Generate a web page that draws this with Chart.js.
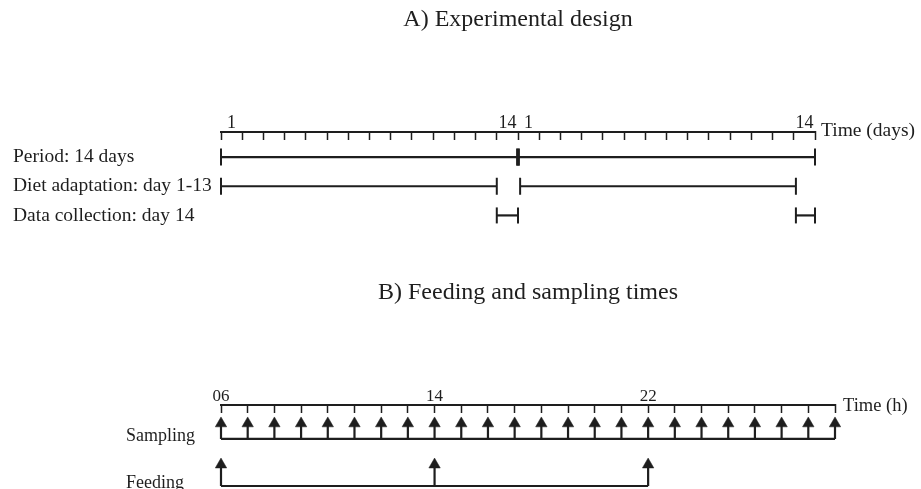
<!DOCTYPE html>
<html>
<head>
<meta charset="utf-8">
<script src="https://cdn.jsdelivr.net/npm/chart.js@4.4.1/dist/chart.umd.min.js"></script>
<style>
  html, body { margin: 0; padding: 0; background: #ffffff; }
  #wrapA { position: absolute; left: 0; top: 0; width: 921px; height: 260px; }
  #wrapB { position: absolute; left: 0; top: 260px; width: 921px; height: 229px; }
</style>
</head>
<body>
<div id="wrapA"><canvas id="chartA" width="921" height="260"></canvas></div>
<div id="wrapB"><canvas id="chartB" width="921" height="229"></canvas></div>
<script>
// ---------- Data: A) Experimental design ----------
const titleA = 'A) Experimental design';
const axisTitleA = 'Time (days)';
const dayBoundaries = [0, 1, 2, 3, 4, 5, 6, 7, 8, 9, 10, 11, 12, 13, 14, 15, 16, 17, 18, 19, 20, 21, 22, 23, 24, 25, 26, 27, 28];
const dayLabelAt = [0, 13, 14, 27];
const dayLabels = ['1', '14', '1', '14'];
const rowsA = ['Period: 14 days', 'Diet adaptation: day 1-13', 'Data collection: day 14'];
const periodSegments = [[0, 14], [14, 28]];
const dietSegments = [[0, 13], [14.1, 27.1]];
const collectionSegments = [[13, 14], [27.1, 28]];

// ---------- Data: B) Feeding and sampling times ----------
const titleB = 'B) Feeding and sampling times';
const axisTitleB = 'Time (h)';
const hourTicks = [6, 7, 8, 9, 10, 11, 12, 13, 14, 15, 16, 17, 18, 19, 20, 21, 22, 23, 24, 25, 26, 27, 28, 29];
const hourLabelAt = [6, 14, 22];
const hourLabels = ['06', '14', '22'];
const rowsB = ['Sampling', 'Feeding'];
const samplingTimes = [6, 7, 8, 9, 10, 11, 12, 13, 14, 15, 16, 17, 18, 19, 20, 21, 22, 23, 24, 25, 26, 27, 28, 29];
const feedingTimes = [6, 14, 22];

// ---------- Styles ----------
const FONT = "'Liberation Serif', 'Times New Roman', serif";
const INK = '#1e1e1e';

const axisEndLabel = {
  id: 'axisEndLabel',
  afterDraw(chart, args, opts) {
    const { ctx, chartArea } = chart;
    const xs = chart.scales.x;
    ctx.save();
    ctx.font = opts.size + 'px ' + FONT;
    ctx.fillStyle = INK;
    ctx.textBaseline = 'middle';
    ctx.textAlign = 'left';
    ctx.fillText(opts.text, chartArea.right + opts.gap, xs.bottom + opts.dy);
    ctx.restore();
  }
};

function segDatasets(segs, row, capRadius) {
  // boundaries shared by two consecutive segments get a heavier cap
  const joints = [];
  for (let i = 1; i < segs.length; i++) {
    if (segs[i][0] === segs[i - 1][1]) joints.push(segs[i][0]);
  }
  return segs.map(([a, b]) => ({
    type: 'line',
    data: [{ x: a, y: row }, { x: b, y: row }],
    borderColor: INK,
    borderWidth: 2.2,
    pointStyle: 'line',
    pointRotation: 90,
    pointRadius: capRadius,
    pointHoverRadius: capRadius,
    pointBorderWidth: c => (c.raw && joints.includes(c.raw.x)) ? 3.4 : 2,
    pointBorderColor: INK,
    pointBackgroundColor: INK,
    tension: 0,
    clip: false
  }));
}

function arrowDatasets(times, row, len, headRadius) {
  const shaft = [];
  times.forEach(t => { shaft.push({ x: t, y: row }, { x: t, y: row + len }, { x: t, y: null }); });
  return [
    {
      type: 'line', data: shaft, borderColor: INK, borderWidth: 2.2,
      pointRadius: 0, pointHoverRadius: 0, spanGaps: false, tension: 0, clip: false
    },
    {
      type: 'line', showLine: false, data: times.map(t => ({ x: t, y: row + len })),
      pointStyle: 'triangle', pointRadius: headRadius, pointHoverRadius: headRadius,
      pointBackgroundColor: INK, pointBorderColor: INK, pointBorderWidth: 0.5, clip: false
    }
  ];
}

const commonPlugins = {
  legend: { display: false },
  tooltip: { enabled: false }
};

// ---------- Chart A ----------
new Chart(document.getElementById('chartA'), {
  type: 'line',
  data: {
    datasets: [
      ...segDatasets(periodSegments, 1, 8.5),
      ...segDatasets(dietSegments, 2, 8.5),
      ...segDatasets(collectionSegments, 3, 8)
    ]
  },
  options: {
    responsive: false,
    animation: false,
    events: [],
    layout: { autoPadding: false, padding: { left: 13, right: 106, top: 0, bottom: 30 } },
    plugins: {
      ...commonPlugins,
      title: {
        display: true, text: titleA, fullSize: false, color: INK,
        font: { family: FONT, size: 24, weight: 'normal' },
        padding: { top: 5, bottom: 0 }
      },
      axisEndLabel: { text: axisTitleA, size: 19.5, gap: 6, dy: -1 }
    },
    scales: {
      x: {
        type: 'linear', position: 'top', min: 0, max: 28,
        afterBuildTicks: s => { s.ticks = dayBoundaries.map(v => ({ value: v })); },
        afterFit: s => { s.height = 98.2; },
        grid: { display: true, drawOnChartArea: false, drawTicks: true, tickLength: -8, tickColor: INK, tickWidth: 1.5, color: INK },
        border: { display: true, color: INK, width: 2 },
        ticks: {
          autoSkip: false, maxRotation: 0, minRotation: 0, labelOffset: 10.6, padding: 6,
          color: INK, font: { family: FONT, size: 18 },
          callback: v => { const i = dayLabelAt.indexOf(v); return i >= 0 ? dayLabels[i] : ''; }
        }
      },
      y: {
        type: 'linear', position: 'left', reverse: true, min: 0.14, max: 3.5,
        afterBuildTicks: s => { s.ticks = rowsA.map((_, i) => ({ value: i + 1 })); },
        afterFit: s => { s.width = 208; s.paddingTop = 0; s.paddingBottom = 0; },
        grid: { display: false },
        border: { display: false },
        ticks: {
          autoSkip: false, crossAlign: 'far', color: INK, font: { family: FONT, size: 19.5 },
          callback: v => rowsA[Math.round(v) - 1]
        }
      }
    }
  },
  plugins: [axisEndLabel]
});

// ---------- Chart B ----------
new Chart(document.getElementById('chartB'), {
  type: 'line',
  data: {
    datasets: [
      ...segDatasets([[samplingTimes[0], samplingTimes[samplingTimes.length - 1]]], 1, 0),
      ...segDatasets([[feedingTimes[0], feedingTimes[feedingTimes.length - 1]]], 0, 0),
      ...arrowDatasets(samplingTimes, 1, 0.326, 6.6),
      ...arrowDatasets(feedingTimes, 0, 0.453, 6.6)
    ]
  },
  options: {
    responsive: false,
    animation: false,
    events: [],
    layout: { autoPadding: false, padding: { left: 126, right: 86, top: 0, bottom: 0 } },
    plugins: {
      ...commonPlugins,
      title: {
        display: true, text: titleB, fullSize: false, color: INK,
        font: { family: FONT, size: 24, weight: 'normal' },
        padding: { top: 18.6, bottom: 0 }
      },
      axisEndLabel: { text: axisTitleB, size: 18.5, gap: 8, dy: 1 }
    },
    scales: {
      x: {
        type: 'linear', position: 'top', min: 6, max: 29,
        afterBuildTicks: s => { s.ticks = hourTicks.map(v => ({ value: v })); },
        afterFit: s => { s.height = 97.6; },
        grid: { display: true, drawOnChartArea: false, drawTicks: true, tickLength: -8, tickColor: INK, tickWidth: 1.5, color: INK },
        border: { display: true, color: INK, width: 2 },
        ticks: {
          autoSkip: false, maxRotation: 0, minRotation: 0, padding: 6,
          color: INK, font: { family: FONT, size: 17 },
          callback: v => { const i = hourLabelAt.indexOf(v); return i >= 0 ? hourLabels[i] : ''; }
        }
      },
      y: {
        type: 'linear', position: 'left', min: -0.064, max: 1.72,
        afterBuildTicks: s => { s.ticks = rowsB.map((_, i) => ({ value: rowsB.length - 1 - i })); },
        afterFit: s => { s.width = 95; s.paddingTop = 0; s.paddingBottom = 0; },
        grid: { display: false },
        border: { display: false },
        ticks: {
          autoSkip: false, crossAlign: 'far', labelOffset: -3, color: INK, font: { family: FONT, size: 18 },
          callback: v => rowsB[rowsB.length - 1 - Math.round(v)]
        }
      }
    }
  },
  plugins: [axisEndLabel]
});
</script>
</body>
</html>
